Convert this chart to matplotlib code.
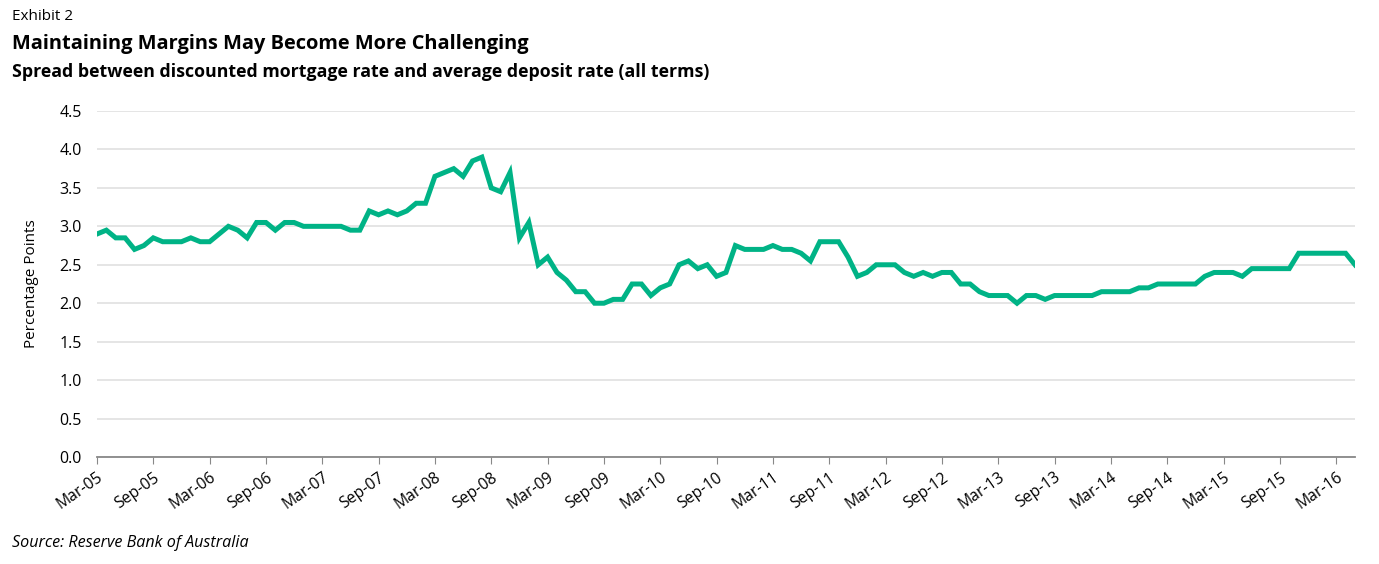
import matplotlib
matplotlib.use('Agg')
import matplotlib.pyplot as plt
import pandas as pd

plt.rcParams['font.family'] = ['Open Sans', 'DejaVu Sans']

# monthly data, Mar-05 .. May-16
months = pd.date_range('2005-03-01', '2016-05-01', freq='MS')
spread = [2.90, 2.95, 2.85, 2.85, 2.70, 2.75, 2.85, 2.80, 2.80, 2.80, 2.85, 2.80,
          2.80, 2.90, 3.00, 2.95, 2.85, 3.05, 3.05, 2.95, 3.05, 3.05, 3.00, 3.00,
          3.00, 3.00, 3.00, 2.95, 2.95, 3.20, 3.15, 3.20, 3.15, 3.20, 3.30, 3.30,
          3.65, 3.70, 3.75, 3.65, 3.85, 3.90, 3.50, 3.45, 3.70, 2.85, 3.05, 2.50,
          2.60, 2.40, 2.30, 2.15, 2.15, 2.00, 2.00, 2.05, 2.05, 2.25, 2.25, 2.10,
          2.20, 2.25, 2.50, 2.55, 2.45, 2.50, 2.35, 2.40, 2.75, 2.70, 2.70, 2.70,
          2.75, 2.70, 2.70, 2.65, 2.55, 2.80, 2.80, 2.80, 2.60, 2.35, 2.40, 2.50,
          2.50, 2.50, 2.40, 2.35, 2.40, 2.35, 2.40, 2.40, 2.25, 2.25, 2.15, 2.10,
          2.10, 2.10, 2.00, 2.10, 2.10, 2.05, 2.10, 2.10, 2.10, 2.10, 2.10, 2.15,
          2.15, 2.15, 2.15, 2.20, 2.20, 2.25, 2.25, 2.25, 2.25, 2.25, 2.35, 2.40,
          2.40, 2.40, 2.35, 2.45, 2.45, 2.45, 2.45, 2.45, 2.65, 2.65, 2.65, 2.65,
          2.65, 2.65, 2.50]
month_labels = [m.strftime('%b-%y') for m in months]
yticks = [0.0, 0.5, 1.0, 1.5, 2.0, 2.5, 3.0, 3.5, 4.0, 4.5]

fig = plt.figure(figsize=(13.79, 5.64), dpi=100)
ax = fig.add_axes([0.0703, 0.1897, 0.9123, 0.6135])

x = list(range(len(spread)))
ax.plot(x, spread, color='#00B386', lw=3.6, solid_joinstyle='miter', zorder=3)

ax.set_xlim(0, len(spread) - 1)
ax.set_ylim(0, 4.5)
ax.set_yticks(yticks)
ax.set_yticklabels([f'{v:.1f}' for v in yticks], fontsize=11.5)
ax.grid(axis='y', color='#e3e3e3', lw=1.3)
ax.set_axisbelow(True)

tick_pos = x[::6]
ax.set_xticks(tick_pos)
ax.set_xticklabels([month_labels[i] for i in tick_pos], rotation=35, ha='right',
                   rotation_mode='anchor', fontsize=11.3)
ax.tick_params(axis='x', length=5, color='#888888', pad=4)
ax.tick_params(axis='y', length=0, pad=11)

for s in ['top', 'right', 'left']:
    ax.spines[s].set_visible(False)
ax.spines['bottom'].set_color('#888888')
ax.spines['bottom'].set_linewidth(1.3)

ax.set_ylabel('Percentage Points', fontsize=11)
ax.yaxis.set_label_coords(-0.046, 0.5)

fig.text(0.0087, 0.970, 'Exhibit 2', fontsize=11, va='center')
fig.text(0.0087, 0.922, 'Maintaining Margins May Become More Challenging',
         fontsize=14.4, fontweight='bold', va='center')
fig.text(0.0087, 0.872, 'Spread between discounted mortgage rate and average deposit rate (all terms)',
         fontsize=12.8, fontweight='bold', va='center')
fig.text(0.0087, 0.037, 'Source: Reserve Bank of Australia', fontsize=11.6,
         style='italic', va='center')

fig.savefig('out.png', dpi=100)
